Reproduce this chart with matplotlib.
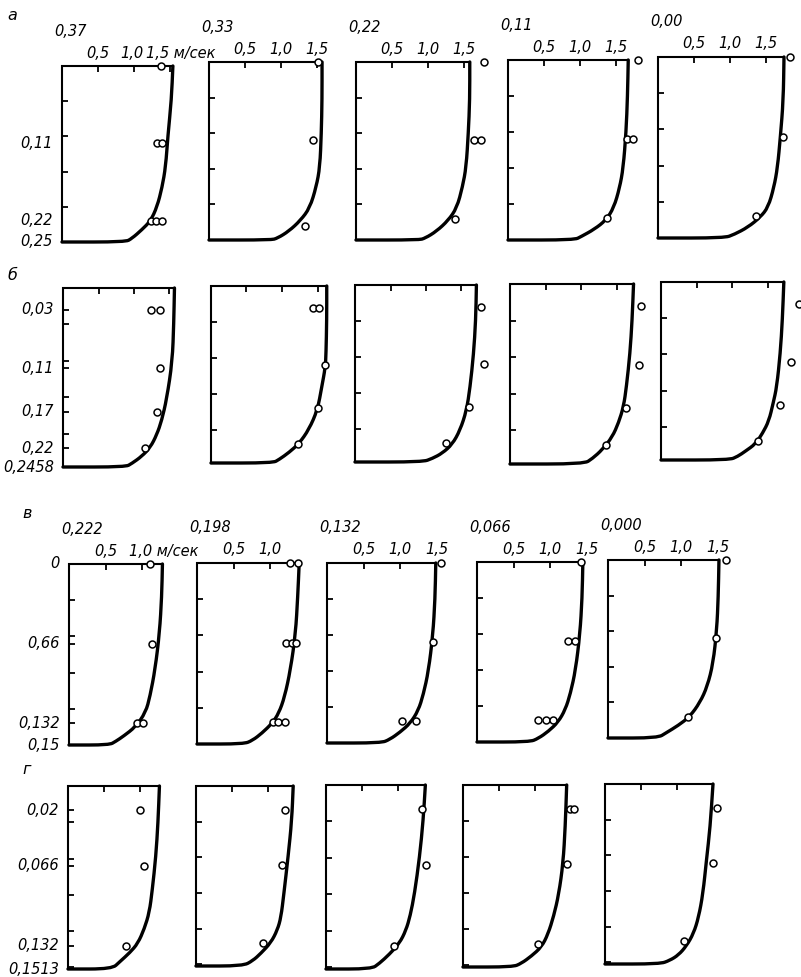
import matplotlib
matplotlib.use('Agg')
import matplotlib.pyplot as plt
from matplotlib.path import Path
from matplotlib.patches import PathPatch

W, HPX = 801, 977
plt.rcParams['font.family'] = ['Liberation Sans Narrow', 'DejaVu Sans']
FS = 10.5
XMAX = 2.0
TICK_V = [0.5, 1.0, 1.5]

# ---- row а: depth 0.25 m ----
a_depth = 0.25
a_titles = ['0,37', '0,33', '0,22', '0,11', '0,00']
a_eta = [[0, 0.19, 0.40, 0.57, 0.69, 0.80, 0.88, 0.93, 0.98, 1.0],
         [0, 0.21, 0.40, 0.59, 0.70, 0.82, 0.89, 0.95, 0.99, 1.0],
         [0, 0.21, 0.40, 0.59, 0.70, 0.82, 0.89, 0.95, 0.99, 1.0],
         [0, 0.20, 0.40, 0.60, 0.71, 0.82, 0.89, 0.94, 0.98, 1.0],
         [0, 0.24, 0.44, 0.61, 0.72, 0.83, 0.885, 0.94, 0.98, 1.0]]
a_u = [[1.54, 1.52, 1.47, 1.44, 1.39, 1.32, 1.23, 1.11, 0.97, 0.88],
       [1.57, 1.57, 1.56, 1.54, 1.49, 1.40, 1.27, 1.11, 0.95, 0.86],
       [1.58, 1.58, 1.56, 1.53, 1.48, 1.40, 1.28, 1.12, 0.96, 0.87],
       [1.67, 1.66, 1.64, 1.60, 1.55, 1.47, 1.36, 1.20, 1.02, 0.92],
       [1.75, 1.74, 1.70, 1.66, 1.61, 1.53, 1.42, 1.25, 1.06, 0.92]]
a_pt_z = [[0, 0.11, 0.11, 0.22, 0.22, 0.22],
          [0, 0.11, 0.23],
          [0, 0.11, 0.11, 0.22],
          [0, 0.11, 0.11, 0.22],
          [0, 0.11, 0.22]]
a_pt_u = [[1.37, 1.32, 1.39, 1.23, 1.30, 1.39],
          [1.51, 1.45, 1.34],
          [1.78, 1.64, 1.74, 1.37],
          [1.80, 1.65, 1.74, 1.37],
          [1.83, 1.73, 1.36]]
a_ylab_z = [0.11, 0.22, 0.25]
a_ylab = ['0,11', '0,22', '0,25']
a_grid = [0.05, 0.10, 0.15, 0.20]

# ---- row б: depth 0.2458 m ----
b_depth = 0.2458
b_titles = ['', '', '', '', '']
b_eta = [[0, 0.196, 0.41, 0.62, 0.74, 0.82, 0.89, 0.94, 0.98, 1.0],
         [0, 0.19, 0.38, 0.46, 0.57, 0.70, 0.81, 0.89, 0.94, 0.98, 1.0],
         [0, 0.20, 0.39, 0.58, 0.71, 0.82, 0.90, 0.95, 0.98, 1.0],
         [0, 0.20, 0.385, 0.57, 0.68, 0.77, 0.85, 0.92, 0.97, 1.0],
         [0, 0.21, 0.40, 0.59, 0.68, 0.78, 0.85, 0.91, 0.95, 0.98, 1.0]]
b_u = [[1.57, 1.56, 1.54, 1.46, 1.39, 1.32, 1.23, 1.11, 0.97, 0.88],
       [1.63, 1.63, 1.62, 1.61, 1.56, 1.50, 1.38, 1.24, 1.10, 0.96, 0.87],
       [1.71, 1.70, 1.67, 1.62, 1.57, 1.48, 1.37, 1.23, 1.09, 0.95],
       [1.74, 1.72, 1.69, 1.64, 1.60, 1.53, 1.44, 1.30, 1.16, 1.04],
       [1.73, 1.71, 1.68, 1.63, 1.58, 1.52, 1.43, 1.33, 1.19, 1.08, 0.96]]
b_pt_z = [[0.03, 0.03, 0.11, 0.17, 0.22],
          [0.03, 0.03, 0.11, 0.17, 0.22],
          [0.03, 0.11, 0.17, 0.22],
          [0.03, 0.11, 0.17, 0.22],
          [0.03, 0.11, 0.17, 0.22]]
b_pt_u = [[1.24, 1.36, 1.37, 1.33, 1.16],
          [1.43, 1.52, 1.60, 1.51, 1.22],
          [1.77, 1.81, 1.61, 1.28],
          [1.84, 1.81, 1.63, 1.35],
          [1.94, 1.83, 1.67, 1.37]]
b_ylab_z = [0.03, 0.11, 0.17, 0.22, 0.2458]
b_ylab = ['0,03', '0,11', '0,17', '0,22', '0,2458']
b_grid = [0.05, 0.10, 0.15, 0.20]

# ---- row в: depth 0.15 m ----
c_depth = 0.15
c_titles = ['0,222', '0,198', '0,132', '0,066', '0,000']
c_eta = [[0, 0.18, 0.38, 0.58, 0.73, 0.82, 0.90, 0.95, 0.98, 1.0],
         [0, 0.185, 0.39, 0.59, 0.74, 0.83, 0.885, 0.94, 0.98, 1.0],
         [0, 0.20, 0.40, 0.60, 0.73, 0.82, 0.89, 0.94, 0.98, 1.0],
         [0, 0.20, 0.40, 0.60, 0.73, 0.82, 0.89, 0.94, 0.98, 1.0],
         [0, 0.21, 0.39, 0.58, 0.71, 0.80, 0.88, 0.93, 0.97, 1.0]]
c_u = [[1.28, 1.27, 1.24, 1.18, 1.11, 1.05, 0.91, 0.75, 0.64, 0.55],
       [1.40, 1.38, 1.35, 1.28, 1.20, 1.12, 1.03, 0.89, 0.76, 0.64],
       [1.49, 1.48, 1.45, 1.39, 1.32, 1.25, 1.14, 1.00, 0.86, 0.74],
       [1.45, 1.44, 1.41, 1.35, 1.28, 1.21, 1.11, 0.98, 0.84, 0.72],
       [1.52, 1.51, 1.49, 1.44, 1.36, 1.26, 1.12, 0.96, 0.80, 0.68]]
c_pt_z = [[0, 0.066, 0.132, 0.132],
          [0, 0, 0.066, 0.066, 0.066, 0.132, 0.132, 0.132],
          [0, 0.066, 0.132, 0.132],
          [0, 0.066, 0.066, 0.132, 0.132, 0.132],
          [0, 0.066, 0.132]]
c_pt_u = [[1.11, 1.14, 0.93, 1.01],
          [1.27, 1.39, 1.22, 1.30, 1.36, 1.04, 1.11, 1.20],
          [1.56, 1.45, 1.03, 1.22],
          [1.42, 1.25, 1.34, 0.84, 0.95, 1.04],
          [1.62, 1.48, 1.09]]
c_ylab_z = [0, 0.066, 0.132, 0.15]
c_ylab = ['0', '0,66', '0,132', '0,15']
c_grid = [0.03, 0.06, 0.09, 0.12]

# ---- row г: depth 0.1513 m ----
d_depth = 0.1513
d_titles = ['', '', '', '', '']
d_eta = [[0, 0.20, 0.385, 0.57, 0.69, 0.78, 0.86, 0.91, 0.96, 1.0],
         [0, 0.19, 0.39, 0.60, 0.73, 0.80, 0.87, 0.93, 0.97, 1.0],
         [0, 0.19, 0.39, 0.59, 0.71, 0.79, 0.86, 0.92, 0.97, 1.0],
         [0, 0.23, 0.43, 0.60, 0.72, 0.82, 0.89, 0.94, 0.98, 1.0],
         [0, 0.24, 0.42, 0.61, 0.74, 0.83, 0.90, 0.95, 0.98, 1.0]]
d_u = [[1.27, 1.25, 1.22, 1.17, 1.13, 1.06, 0.97, 0.86, 0.72, 0.61],
       [1.35, 1.33, 1.28, 1.22, 1.18, 1.13, 1.04, 0.90, 0.79, 0.65],
       [1.38, 1.35, 1.30, 1.23, 1.17, 1.11, 1.02, 0.88, 0.74, 0.63],
       [1.44, 1.42, 1.39, 1.33, 1.26, 1.18, 1.09, 0.95, 0.81, 0.69],
       [1.50, 1.46, 1.41, 1.36, 1.30, 1.23, 1.13, 1.02, 0.90, 0.76]]
d_pt_z = [[0.02, 0.066, 0.132],
          [0.02, 0.066, 0.132],
          [0.02, 0.066, 0.132],
          [0.02, 0.02, 0.066, 0.132],
          [0.02, 0.066, 0.132]]
d_pt_u = [[1.00, 1.06, 0.81],
          [1.24, 1.19, 0.93],
          [1.33, 1.39, 0.94],
          [1.49, 1.54, 1.45, 1.04],
          [1.55, 1.50, 1.10]]
d_ylab_z = [0.02, 0.066, 0.132, 0.1513]
d_ylab = ['0,02', '0,066', '0,132', '0,1513']
d_grid = [0.03, 0.06, 0.09, 0.12, 0.15]

# layout (pixels): box left / top / bottom, pixels per m/s
rows = [
    dict(H=a_depth, titles=a_titles, eta=a_eta, u=a_u, pz=a_pt_z, pu=a_pt_u,
         yz=a_ylab_z, yl=a_ylab, grid=a_grid, letter='а', letter_xy=(12, 15),
         left=[62, 209, 356, 508, 658], top=[66, 62, 62, 60, 57],
         bot=[242, 240, 240, 240, 238], pxu=72, labels=True, unit_after=1.5,
         label_ticks=False),
    dict(H=b_depth, titles=b_titles, eta=b_eta, u=b_u, pz=b_pt_z, pu=b_pt_u,
         yz=b_ylab_z, yl=b_ylab, grid=b_grid, letter='б', letter_xy=(12, 276),
         left=[63, 211, 355, 510, 661], top=[288, 286, 285, 284, 282],
         bot=[467, 463, 462, 464, 460], pxu=71, labels=False, unit_after=None,
         label_ticks=True),
    dict(H=c_depth, titles=c_titles, eta=c_eta, u=c_u, pz=c_pt_z, pu=c_pt_u,
         yz=c_ylab_z, yl=c_ylab, grid=c_grid, letter='в', letter_xy=(27, 513),
         left=[69, 197, 327, 477, 608], top=[564, 563, 563, 562, 560],
         bot=[745, 744, 743, 742, 738], pxu=73, labels=True, unit_after=1.0,
         label_ticks=True),
    dict(H=d_depth, titles=d_titles, eta=d_eta, u=d_u, pz=d_pt_z, pu=d_pt_u,
         yz=d_ylab_z, yl=d_ylab, grid=d_grid, letter='г', letter_xy=(27, 769),
         left=[68, 196, 326, 463, 605], top=[786, 786, 785, 785, 784],
         bot=[969, 966, 969, 967, 964], pxu=72, labels=False, unit_after=None,
         label_ticks=True),
]


def profile_path(u, eta, H):
    # bottom-left corner, then the curve from the bed up to the surface
    pts = [(0.0, H)] + [(uu, e * H) for uu, e in zip(u[::-1], eta[::-1])]
    mid = lambda p, q: ((p[0] + q[0]) / 2, (p[1] + q[1]) / 2)
    verts = [pts[0], mid(pts[0], pts[1])]
    codes = [Path.MOVETO, Path.LINETO]
    for i in range(1, len(pts) - 1):
        verts += [pts[i], mid(pts[i], pts[i + 1])]
        codes += [Path.CURVE3, Path.CURVE3]
    verts.append(pts[-1])
    codes.append(Path.LINETO)
    return Path(verts, codes)


fig = plt.figure(figsize=(W / 100, HPX / 100), dpi=100)
txt = dict(fontsize=FS, fontstyle='italic', color='black')

for r in rows:
    H = r['H']
    fig.text(r['letter_xy'][0] / W, 1 - r['letter_xy'][1] / HPX, r['letter'],
             ha='center', va='center', fontsize=FS + 1, fontstyle='italic')
    for k in range(5):
        L, T, B = r['left'][k], r['top'][k], r['bot'][k]
        ax = fig.add_axes([L / W, 1 - B / HPX, XMAX * r['pxu'] / W, (B - T) / HPX])
        ax.set_facecolor('none')
        for s in ax.spines.values():
            s.set_visible(False)
        ax.set_xlim(0, XMAX)
        ax.set_ylim(H, 0)
        u_s = r['u'][k][0]

        # box: left wall and water surface
        ax.plot([u_s, 0, 0], [0, 0, H], color='black', lw=1.5,
                solid_joinstyle='miter', clip_on=False)
        # velocity profile and bed
        ax.add_patch(PathPatch(profile_path(r['u'][k], r['eta'][k], H),
                               fill=False, lw=2.4, capstyle='round',
                               joinstyle='round', clip_on=False))
        # measured points
        ax.plot(r['pu'][k], r['pz'][k], 'o', mfc='white', mec='black', ms=5,
                mew=1.1, clip_on=False, zorder=5)

        # top ticks (velocity)
        tv = [v for v in TICK_V if v < u_s - 0.03]
        ax.xaxis.set_ticks_position('top')
        ax.set_xticks(tv)
        ax.tick_params(axis='x', direction='in', length=4, width=1.3,
                       top=True, bottom=False, labeltop=False, labelbottom=False)
        # left ticks (depth)
        ax.set_yticks(r['grid'], minor=True)
        if k == 0 and r['label_ticks']:
            ax.set_yticks([z for z in r['yz'] if 0 < z < H])
        else:
            ax.set_yticks([])
        ax.tick_params(axis='y', which='both', direction='in', length=4,
                       width=1.3, left=True, right=False, labelleft=False)

        if r['titles'][k]:
            fig.text((L - 8) / W, 1 - (T - 35) / HPX, r['titles'][k],
                     ha='left', va='center', **txt)

        if r['labels']:
            lab_v = [v for v in TICK_V if v <= u_s + 0.05]
            for v in lab_v:
                s = ('%.1f' % v).replace('.', ',')
                if k == 0 and r['unit_after'] == v:
                    dx = -24 if v == 1.5 else -13
                    ax.annotate(s + ' м/сек', xy=(v, 0), xytext=(dx, 13),
                                textcoords='offset pixels', ha='left',
                                va='center', annotation_clip=False, **txt)
                else:
                    dx = -2 if (k == 0 and v == 1.0) else 0
                    ax.annotate(s, xy=(v, 0), xytext=(dx, 13),
                                textcoords='offset pixels', ha='center',
                                va='center', annotation_clip=False, **txt)

        if k == 0:
            for z, s in zip(r['yz'], r['yl']):
                ax.annotate(s, xy=(0, z), xytext=(-9, 0),
                            textcoords='offset pixels', ha='right',
                            va='center', annotation_clip=False, **txt)

fig.savefig('out.png', dpi=100)
